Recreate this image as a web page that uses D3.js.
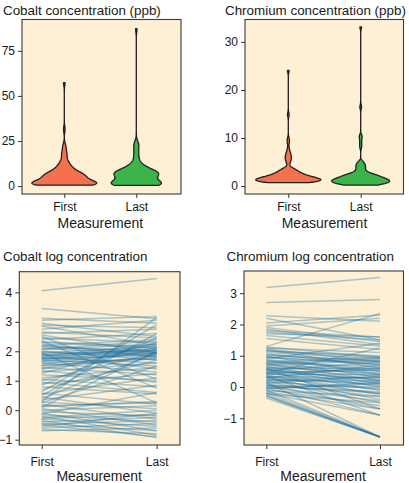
<!DOCTYPE html>
<html><head><meta charset="utf-8">
<script src="https://cdn.jsdelivr.net/npm/d3@7"></script>
<style>
body{margin:0;background:#fff;}
text{font-family:"Liberation Sans",Arial,Helvetica,sans-serif;fill:#1a1a1a;}
</style>
</head><body><svg id="c" width="409" height="483"></svg>
<script>
const categories = ["First", "Last"];

// natural-log concentrations, one entry per patient (first, last)
const cobaltFirstLog = [4.05,3.45,3.12,3.05,2.95,2.88,2.85,2.75,2.65,2.60,2.55,2.50,2.45,2.40,2.35,2.30,2.25,2.20,2.15,2.10,2.05,2.00,1.95,1.95,1.90,1.88,1.85,1.80,1.78,1.75,1.72,1.70,1.65,1.60,1.55,1.50,1.45,1.40,1.35,1.30,1.25,1.20,1.10,1.05,1.00,0.95,0.90,0.85,0.80,0.70,0.62,0.58,0.55,0.50,0.45,0.35,0.30,0.28,0.25,0.20,0.15,0.10,0.05,0.00,-0.05,-0.10,-0.12,-0.15,-0.20,-0.25,-0.30,-0.35,-0.40,-0.45,-0.50,-0.55,-0.60,-0.65,-0.70,
  2.32,2.18,2.08,1.98,1.92,1.82,1.76,1.68,1.62,1.52,1.42,0.40,0.12,-0.28,-0.48];
const cobaltLastLog  = [4.47,3.10,2.95,3.18,2.50,2.80,2.20,3.05,2.45,2.75,1.95,1.05,2.30,2.60,0.75,2.10,1.80,2.40,2.00,1.90,2.25,1.70,2.15,0.25,1.40,2.05,1.95,2.10,1.60,1.85,2.20,1.50,1.95,1.30,2.05,1.75,1.20,1.85,0.95,1.60,2.30,1.00,1.45,0.80,1.95,0.60,1.25,2.45,0.55,1.70,2.90,0.20,1.10,2.60,-0.10,0.85,3.15,0.05,1.50,-0.30,0.25,2.00,-0.50,0.15,-0.20,-0.70,0.60,-0.40,-0.85,0.00,-0.55,-0.93,-0.25,-0.70,-0.90,-0.10,-0.45,-0.80,-0.60,
  2.15,1.95,2.35,1.85,2.00,2.25,1.90,2.10,1.75,1.80,2.05,1.95,0.30,-0.15,-0.35];

const chromiumFirstLog = [3.18,2.70,2.28,2.20,2.05,1.95,1.90,1.85,1.80,1.75,1.70,1.65,1.55,1.30,1.28,1.25,1.22,1.20,1.15,1.10,1.05,1.00,0.98,0.95,0.90,0.88,0.85,0.80,0.78,0.75,0.72,0.70,0.65,0.62,0.60,0.60,0.58,0.55,0.52,0.50,0.48,0.45,0.45,0.42,0.40,0.38,0.35,0.35,0.32,0.30,0.28,0.25,0.22,0.20,0.18,0.15,0.15,0.12,0.10,0.08,0.05,0.02,0.00,-0.02,-0.05,-0.08,-0.10,-0.12,-0.15,-0.18,-0.20,-0.22,-0.25,-0.28,-0.30,-0.35,
  0.95,0.85,0.75,0.68,0.55,0.42,0.32,0.22,0.05,-0.05,1.05,1.15];
const chromiumLastLog  = [3.50,2.80,2.10,1.50,2.30,2.20,1.45,1.35,1.60,1.50,1.60,1.30,1.20,2.35,0.95,1.10,0.80,0.60,1.00,0.90,0.70,0.85,0.40,0.75,1.40,0.55,0.30,0.95,0.65,0.20,0.50,0.85,0.10,0.45,0.60,-0.70,0.00,0.35,0.80,0.25,-0.10,0.55,1.25,0.15,0.40,-0.25,0.05,-0.90,0.30,-0.40,0.70,0.10,-0.20,0.20,-0.50,-0.05,-1.60,0.35,-0.30,-0.70,0.00,-0.15,-0.45,-0.90,0.15,-0.60,-1.60,-0.30,-0.70,-1.60,-0.90,-0.50,-1.60,-1.60,-1.60,-1.60,
  0.70,0.50,0.90,0.40,0.20,0.60,-0.10,0.30,-0.20,0.10,0.80,0.95];

const cobaltTicks = [0, 25, 50, 75];
const chromiumTicks = [0, 10, 20, 30];
const cobaltLogTicks = [-1, 0, 1, 2, 3, 4];
const chromiumLogTicks = [-1, 0, 1, 2, 3];
const violinColors = ["#F4714F", "#3BB54A"];

const svg = d3.select("#c");
const BG = "#FEF0D4", FRAME = "#3a3a3a";

function kde(values) {
  const v = values.slice().sort(d3.ascending);
  const n = v.length;
  const sd = d3.deviation(v);
  const iqr = d3.quantile(v, 0.75) - d3.quantile(v, 0.25);
  let lo = Math.min(sd, iqr / 1.34); if (!lo) lo = sd || 1;
  const bw = 0.9 * lo * Math.pow(n, -0.2);
  const mn = v[0], mx = v[n - 1], pts = [];
  for (let i = 0; i < 512; i++) {
    const x = mn + (mx - mn) * i / 511;
    let s = 0;
    for (const d of v) { const u = (x - d) / bw; s += Math.exp(-0.5 * u * u); }
    pts.push([x, s / (n * bw * Math.sqrt(2 * Math.PI))]);
  }
  return pts;
}

function panelFrame(g, box, y, ticks, x, titleText, titleX, titleY, xlabY, tickLabY) {
  g.append("rect").attr("x", box.l).attr("y", box.t).attr("width", box.r - box.l).attr("height", box.b - box.t)
    .attr("fill", BG);
  return function finish() {
    g.append("rect").attr("x", box.l).attr("y", box.t).attr("width", box.r - box.l).attr("height", box.b - box.t)
      .attr("fill", "none").attr("stroke", FRAME).attr("stroke-width", 1.1);
    const ya = g.append("g").attr("transform", `translate(${box.l},0)`)
      .call(d3.axisLeft(y).tickValues(ticks).tickSize(4).tickPadding(3).tickFormat(d3.format("d")));
    ya.select(".domain").remove();
    ya.selectAll("line").attr("stroke", "#333");
    ya.selectAll("text").attr("font-size", 12).attr("fill", "#1a1a1a").attr("font-family", "Liberation Sans, Arial, sans-serif");
    const xa = g.append("g").attr("transform", `translate(0,${box.b})`)
      .call(d3.axisBottom(x).tickSize(4).tickPadding(4));
    xa.select(".domain").remove();
    xa.selectAll("line").attr("stroke", "#333");
    xa.selectAll("text").attr("font-size", 12).attr("fill", "#1a1a1a").attr("font-family", "Liberation Sans, Arial, sans-serif")
      .attr("dy", null).attr("y", tickLabY - box.b);
    g.append("text").attr("x", (x(categories[0]) + x(categories[1])) / 2).attr("y", xlabY)
      .attr("text-anchor", "middle").attr("font-size", 14).text("Measurement");
    g.append("text").attr("x", titleX).attr("y", titleY).attr("font-size", 13.4).text(titleText);
  };
}

function violinPanel(box, xs, yDomain, ticks, firstLog, lastLog, title, titleX) {
  const g = svg.append("g");
  const x = d3.scalePoint().domain(categories).range(xs);
  const y = d3.scaleLinear().domain(yDomain).range([box.b, box.t]);
  const finish = panelFrame(g, box, y, ticks, x, title, titleX, 14.5, 228, 211);
  const groups = [firstLog, lastLog].map(a => kde(a.map(Math.exp)));
  const maxD = d3.max(groups, gr => d3.max(gr, d => d[1]));
  const w = d3.scaleLinear().domain([0, maxD]).range([0, 0.45 * (xs[1] - xs[0])]);
  groups.forEach((gr, i) => {
    const cx = x(categories[i]);
    const area = d3.area().y(d => y(d[0])).x0(d => cx - w(d[1])).x1(d => cx + w(d[1]));
    g.append("path").attr("d", area(gr)).attr("fill", violinColors[i])
      .attr("stroke", "#1e1e1e").attr("stroke-width", 1.3).attr("stroke-linejoin", "round");
  });
  finish();
}

function linePanel(box, xs, yDomain, ticks, firstLog, lastLog, title, titleX) {
  const g = svg.append("g");
  const x = d3.scalePoint().domain(categories).range(xs);
  const y = d3.scaleLinear().domain(yDomain).range([box.b, box.t]);
  const finish = panelFrame(g, box, y, ticks, x, title, titleX, 260.5, 481, 466);
  g.append("g").selectAll("line").data(firstLog.map((f, i) => [f, lastLog[i]])).join("line")
    .attr("x1", x(categories[0])).attr("x2", x(categories[1]))
    .attr("y1", d => y(d[0])).attr("y2", d => y(d[1]))
    .attr("stroke", "#1E72A4").attr("stroke-opacity", 0.36).attr("stroke-width", 1.5);
  finish();
}

violinPanel({l: 22, r: 181, t: 19.5, b: 194}, [64.3, 136.3], [-4.4, 92.4], cobaltTicks,
  cobaltFirstLog, cobaltLastLog, "Cobalt concentration (ppb)", 3);
violinPanel({l: 245, r: 403.5, t: 19.5, b: 194}, [288.3, 360.7], [-1.65, 34.65], chromiumTicks,
  chromiumFirstLog, chromiumLastLog, "Chromium concentration (ppb)", 225);
linePanel({l: 19.3, r: 180, t: 271.7, b: 445}, [41.7, 156.7], [-1.18, 4.70], cobaltLogTicks,
  cobaltFirstLog, cobaltLastLog, "Cobalt log concentration", 3);
linePanel({l: 244, r: 403.5, t: 271, b: 445}, [266.3, 380], [-1.855, 3.71], chromiumLogTicks,
  chromiumFirstLog, chromiumLastLog, "Chromium log concentration", 226.5);
</script></body></html>
